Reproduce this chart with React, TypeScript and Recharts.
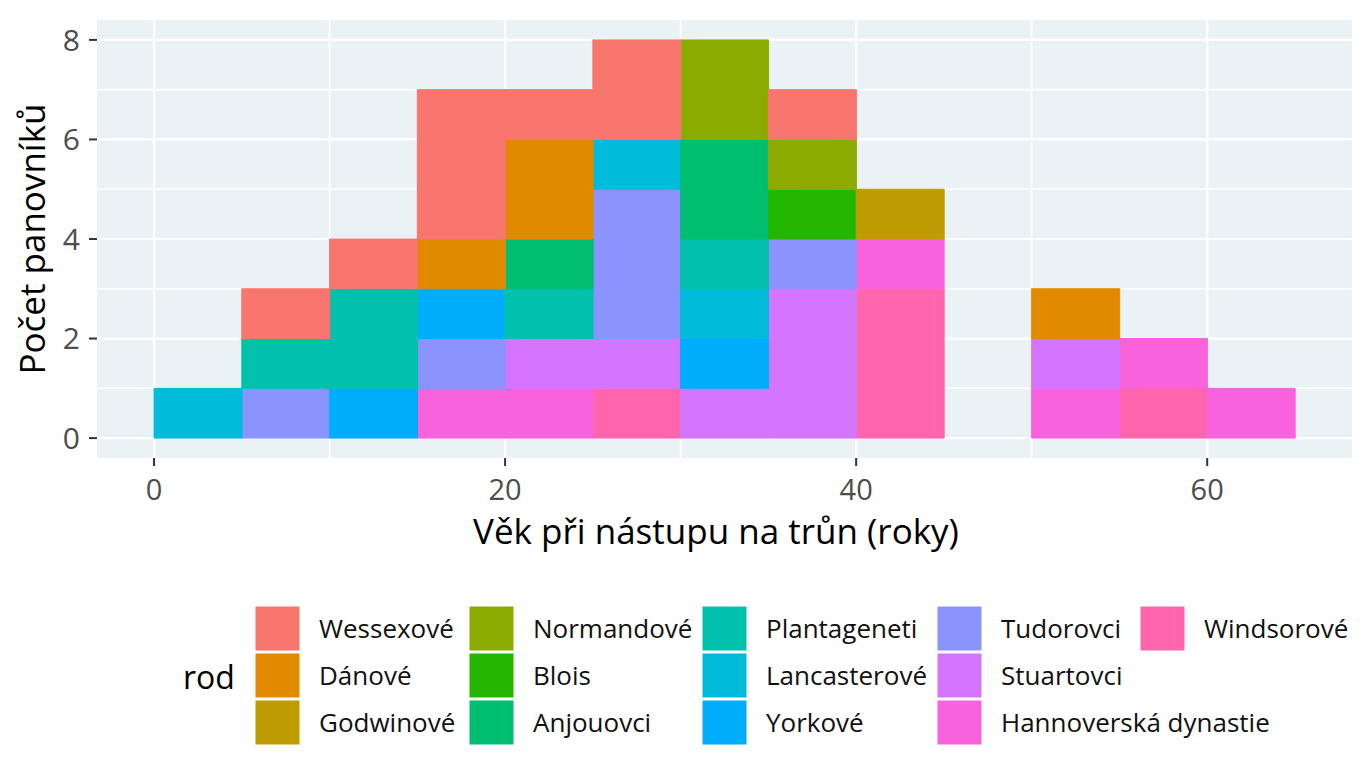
import { BarChart, Bar, XAxis, YAxis, CartesianGrid } from "recharts";

// bin midpoints (5-year bins, 0-65)
const BIN_MIDS = [2.5, 7.5, 12.5, 17.5, 22.5, 27.5, 32.5, 37.5, 42.5, 47.5, 52.5, 57.5, 62.5];

const HOUSES = [
  "Wessexové",
  "Dánové",
  "Godwinové",
  "Normandové",
  "Blois",
  "Anjouovci",
  "Plantageneti",
  "Lancasterové",
  "Yorkové",
  "Tudorovci",
  "Stuartovci",
  "Hannoverská dynastie",
  "Windsorové",
];

const HOUSE_COLORS = [
  "#F8766D",
  "#E18A00",
  "#BE9C00",
  "#8CAB00",
  "#24B700",
  "#00BE70",
  "#00C1AB",
  "#00BBDA",
  "#00ACFC",
  "#8B93FF",
  "#D575FE",
  "#F962DD",
  "#FF65AC",
];

// counts per bin, one array per house
const wessexove = [0, 1, 1, 3, 1, 2, 0, 1, 0, 0, 0, 0, 0];
const danove = [0, 0, 0, 1, 2, 0, 0, 0, 0, 0, 1, 0, 0];
const godwinove = [0, 0, 0, 0, 0, 0, 0, 0, 1, 0, 0, 0, 0];
const normandove = [0, 0, 0, 0, 0, 0, 2, 1, 0, 0, 0, 0, 0];
const blois = [0, 0, 0, 0, 0, 0, 0, 1, 0, 0, 0, 0, 0];
const anjouovci = [0, 0, 0, 0, 1, 0, 2, 0, 0, 0, 0, 0, 0];
const plantageneti = [0, 1, 2, 0, 1, 0, 1, 0, 0, 0, 0, 0, 0];
const lancasterove = [1, 0, 0, 0, 0, 1, 1, 0, 0, 0, 0, 0, 0];
const yorkove = [0, 0, 1, 1, 0, 0, 1, 0, 0, 0, 0, 0, 0];
const tudorovci = [0, 1, 0, 1, 0, 3, 0, 1, 0, 0, 0, 0, 0];
const stuartovci = [0, 0, 0, 0, 1, 1, 1, 3, 0, 0, 1, 0, 0];
const hannoverska = [0, 0, 0, 1, 1, 0, 0, 0, 1, 0, 1, 1, 1];
const windsorove = [0, 0, 0, 0, 0, 1, 0, 0, 3, 0, 0, 1, 0];

const COUNTS = [
  wessexove,
  danove,
  godwinove,
  normandove,
  blois,
  anjouovci,
  plantageneti,
  lancasterove,
  yorkove,
  tudorovci,
  stuartovci,
  hannoverska,
  windsorove,
];

const X_TICKS = [0, 20, 40, 60];
const X_MINOR = [10, 30, 50];
const Y_TICKS = [0, 2, 4, 6, 8];
const Y_MINOR = [1, 3, 5, 7];

const rows = BIN_MIDS.map((mid, i) => {
  const row: Record<string, number> = { mid };
  HOUSES.forEach((h, k) => {
    row[h] = COUNTS[k][i];
  });
  return row;
});

const FONT = "'Open Sans', 'Noto Sans', sans-serif";

// legend layout (5 columns x 3 rows, filled by column)
const LEGEND_COL_X = [256, 470, 703, 938, 1141];
const LEGEND_ROW_Y = [607, 654, 701];
const KEY = 43;

function scaleOf(axis: any, v: number, fallback: number) {
  if (axis && typeof axis.scale === "function") return axis.scale(v);
  return fallback;
}

export default function App() {
  const W = 1372;
  const H = 784;

  return (
    <div style={{ position: "absolute", left: 0, top: 0, width: W, height: H, background: "#fff", fontFamily: FONT }}>
      <BarChart
        width={W}
        height={H}
        data={rows}
        margin={{ top: 20, right: 20, left: 0, bottom: 286 }}
        barCategoryGap={0}
        barGap={0}
      >
        <CartesianGrid
          fill="#EBF2F6"
          fillOpacity={1}
          stroke="#FFFFFF"
          strokeWidth={1.6}
          horizontalCoordinatesGenerator={({ yAxis, offset }: any) =>
            Y_MINOR.map((v) => scaleOf(yAxis, v, offset.top + (offset.height * (8.4 - v)) / 8.8))
          }
          verticalCoordinatesGenerator={({ xAxis, offset }: any) =>
            X_MINOR.map((v) => scaleOf(xAxis, v, offset.left + (offset.width * (v + 3.25)) / 71.5))
          }
        />
        <CartesianGrid
          stroke="#FFFFFF"
          strokeWidth={2.2}
          horizontalCoordinatesGenerator={({ yAxis, offset }: any) =>
            Y_TICKS.map((v) => scaleOf(yAxis, v, offset.top + (offset.height * (8.4 - v)) / 8.8))
          }
          verticalCoordinatesGenerator={({ xAxis, offset }: any) =>
            X_TICKS.map((v) => scaleOf(xAxis, v, offset.left + (offset.width * (v + 3.25)) / 71.5))
          }
        />
        <XAxis
          dataKey="mid"
          type="number"
          domain={[-3.25, 68.25]}
          ticks={X_TICKS}
          interval={0}
          allowDataOverflow
          axisLine={false}
          tickLine={{ stroke: "#333333", strokeWidth: 2 }}
          tickSize={8}
          tickMargin={13}
          height={40}
          tick={{ fill: "#4D4D4D", fontSize: 29, fontFamily: FONT }}
        />
        <YAxis
          type="number"
          domain={[-0.4, 8.4]}
          ticks={Y_TICKS}
          interval={0}
          allowDataOverflow
          axisLine={false}
          tickLine={{ stroke: "#333333", strokeWidth: 2 }}
          tickSize={8}
          tickMargin={9}
          width={97}
          tick={{ fill: "#4D4D4D", fontSize: 30, fontFamily: FONT }}
        />
        {/* ggplot stacks the first level on top, so draw from the last one up */}
        {HOUSES.map((h, k) => ({ h, color: HOUSE_COLORS[k] }))
          .reverse()
          .map(({ h, color }) => (
            <Bar
              key={h}
              dataKey={h}
              stackId="rod"
              fill={color}
              fillOpacity={1}
              stroke={color}
              strokeWidth={1}
              isAnimationActive={false}
            />
          ))}
      </BarChart>

      <svg
        width={W}
        height={H}
        style={{ position: "absolute", left: 0, top: 0, pointerEvents: "none" }}
        fontFamily={FONT}
      >
        <text x={716} y={544} textAnchor="middle" fontSize={35} fill="#000">
          Věk při nástupu na trůn (roky)
        </text>
        <text transform="translate(45, 239) rotate(-90)" textAnchor="middle" fontSize={35} fill="#000">
          Počet panovníků
        </text>
        <text x={183} y={689} fontSize={32} fill="#000">
          rod
        </text>
        {HOUSES.map((h, k) => {
          const col = Math.floor(k / 3);
          const row = k % 3;
          const x = LEGEND_COL_X[col];
          const y = LEGEND_ROW_Y[row];
          return (
            <g key={h}>
              <rect
                x={x}
                y={y}
                width={KEY}
                height={KEY}
                fill={HOUSE_COLORS[k]}
                stroke={HOUSE_COLORS[k]}
                strokeWidth={1}
              />
              <text x={x + 63} y={y + KEY / 2 + 9} fontSize={26} fill="#111">
                {h}
              </text>
            </g>
          );
        })}
      </svg>
    </div>
  );
}
